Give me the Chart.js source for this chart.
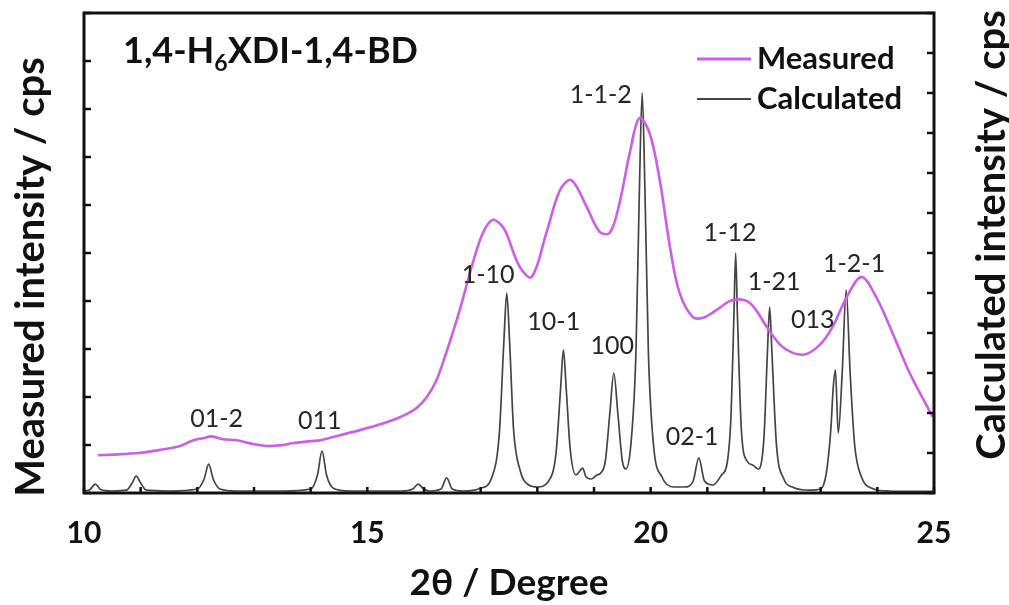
<!DOCTYPE html>
<html>
<head>
<meta charset="utf-8">
<script src="https://cdn.jsdelivr.net/npm/chart.js@4.4.1/dist/chart.umd.min.js"></script>
<style>
  html, body { margin: 0; padding: 0; background: #fff; }
</style>
</head>
<body>
<canvas id="stage" width="1009" height="605"></canvas>
<script>
// measured pattern (left axis, arbitrary units)
const measX = [10.25, 10.5, 11.0, 11.35, 11.7, 11.93, 12.1, 12.25, 12.45, 12.7, 12.98, 13.23, 13.5, 13.7, 14.0, 14.17, 14.5, 14.87, 15.2, 15.45, 15.7, 15.87, 16.05, 16.22, 16.4, 16.63, 16.86, 17.04, 17.21, 17.35, 17.45, 17.69, 17.9, 18.16, 18.4, 18.6, 18.87, 19.1, 19.28, 19.45, 19.63, 19.8, 19.98, 20.16, 20.34, 20.51, 20.74, 20.92, 21.16, 21.45, 21.75, 22.05, 22.33, 22.69, 22.98, 23.21, 23.46, 23.72, 23.98, 24.27, 24.57, 24.98];
const measY = [0.79, 0.8, 0.84, 0.9, 0.98, 1.1, 1.14, 1.18, 1.12, 1.1, 1.02, 0.98, 1.0, 1.04, 1.08, 1.1, 1.2, 1.31, 1.42, 1.52, 1.65, 1.77, 2.0, 2.35, 2.95, 3.81, 4.79, 5.42, 5.69, 5.6, 5.42, 4.71, 4.5, 5.42, 6.31, 6.52, 5.96, 5.44, 5.42, 6.04, 7.08, 7.81, 7.5, 6.52, 5.13, 4.17, 3.67, 3.65, 3.81, 4.02, 3.96, 3.46, 3.04, 2.88, 3.08, 3.46, 4.08, 4.5, 4.08, 3.33, 2.5, 1.58];

// calculated pattern (right axis)
const calcX = [10.0, 10.1, 10.2, 10.3, 10.5, 10.75, 10.85, 10.92, 11.0, 11.1, 11.5, 12.0, 12.12, 12.2, 12.28, 12.4, 12.7, 13.5, 14.0, 14.12, 14.2, 14.28, 14.4, 14.7, 15.6, 15.8, 15.9, 15.98, 16.1, 16.3, 16.4, 16.5, 16.7, 17.0, 17.2, 17.33, 17.41, 17.46, 17.51, 17.58, 17.7, 17.85, 18.0, 18.2, 18.33, 18.41, 18.46, 18.51, 18.58, 18.68, 18.75, 18.8, 18.86, 18.95, 19.05, 19.12, 19.2, 19.28, 19.35, 19.42, 19.5, 19.56, 19.65, 19.74, 19.8, 19.85, 19.9, 19.96, 20.05, 20.2, 20.4, 20.6, 20.75, 20.85, 20.95, 21.1, 21.25, 21.35, 21.42, 21.47, 21.5, 21.53, 21.6, 21.7, 21.8, 21.9, 22.0, 22.06, 22.1, 22.14, 22.22, 22.35, 22.5, 22.8, 23.0, 23.1, 23.18, 23.22, 23.26, 23.31, 23.38, 23.45, 23.52, 23.6, 23.72, 23.9, 24.2, 25.0];
const calcY = [0.05, 0.08, 0.22, 0.08, 0.05, 0.07, 0.25, 0.42, 0.25, 0.07, 0.05, 0.1, 0.35, 0.72, 0.35, 0.1, 0.05, 0.05, 0.1, 0.45, 1.05, 0.45, 0.12, 0.05, 0.05, 0.1, 0.22, 0.12, 0.05, 0.1, 0.38, 0.1, 0.05, 0.12, 0.4, 1.5, 3.8, 5.0, 3.8, 1.6, 0.55, 0.2, 0.15, 0.3, 1.0, 2.6, 3.58, 2.6, 1.1, 0.45, 0.55, 0.62, 0.4, 0.35, 0.45, 0.5, 0.8, 2.0, 3.0, 2.0, 0.8, 0.6, 1.2, 3.5, 7.5, 10.0, 7.5, 3.5, 1.2, 0.4, 0.15, 0.15, 0.3, 0.88, 0.3, 0.2, 0.45, 0.75, 2.0, 4.5, 6.0, 4.5, 1.6, 0.8, 0.7, 0.6, 1.4, 3.5, 4.65, 3.5, 1.2, 0.35, 0.15, 0.07, 0.1, 0.5, 1.6, 2.6, 3.08, 1.5, 3.0, 5.08, 3.0, 1.2, 0.4, 0.12, 0.05, 0.04];

// reflection labels (placed in left-axis units)
const peakNames = ['01-2', '011', '1-10', '10-1', '100', '1-1-2', '02-1', '1-12', '1-21', '013', '1-2-1'];
const peakLabelX = [12.34, 14.16, 17.13, 18.29, 19.32, 19.12, 20.73, 21.4, 22.18, 22.86, 23.59];
const peakLabelY = [1.54, 1.50, 4.54, 3.56, 3.06, 8.29, 1.17, 5.42, 4.4, 3.6, 4.77];

const xTickLabels = [10, 15, 20, 25];
const seriesNames = ['Measured', 'Calculated'];
const seriesColors = ['#cc5ee8', '#444444'];

const BOLD = 'Lato, "DejaVu Sans", sans-serif';

function pairs(xs, ys) {
  return xs.map((x, i) => ({x: x, y: ys[i]}));
}

function vtext(ctx, txt, x, y) {
  ctx.save();
  ctx.translate(x, y);
  ctx.rotate(-Math.PI / 2);
  ctx.textAlign = 'center';
  ctx.textBaseline = 'middle';
  ctx.fillText(txt, 0, 0);
  ctx.restore();
}

const decor = {
  id: 'decor',
  afterDatasetsDraw(chart) {
    const ctx = chart.ctx;
    const a = chart.chartArea;
    const sx = chart.scales.x, sy = chart.scales.y, sy2 = chart.scales.y2;
    ctx.save();
    ctx.strokeStyle = '#111';
    ctx.lineWidth = 2.5;
    ctx.beginPath();
    // inward tick marks
    sx.ticks.forEach(t => {
      const p = sx.getPixelForValue(t.value);
      ctx.moveTo(p, a.bottom); ctx.lineTo(p, a.bottom - 6);
    });
    sy.ticks.forEach(t => {
      const p = sy.getPixelForValue(t.value);
      ctx.moveTo(a.left, p); ctx.lineTo(a.left + 7, p);
    });
    sy2.ticks.forEach(t => {
      const p = sy2.getPixelForValue(t.value);
      ctx.moveTo(a.right, p); ctx.lineTo(a.right - 7, p);
    });
    ctx.stroke();
    ctx.lineWidth = 3;
    ctx.strokeRect(a.left, a.top, a.right - a.left, a.bottom - a.top);

    // reflection labels
    ctx.fillStyle = '#262626';
    ctx.font = '25px Lato, "Open Sans", sans-serif';
    ctx.textAlign = 'center';
    ctx.textBaseline = 'middle';
    peakNames.forEach((n, i) => {
      ctx.fillText(n, sx.getPixelForValue(peakLabelX[i]), sy.getPixelForValue(peakLabelY[i]));
    });

    // sample name with subscript
    ctx.fillStyle = '#111';
    ctx.textAlign = 'left';
    ctx.textBaseline = 'alphabetic';
    let x0 = 123;
    const base = 63;
    const parts = [['1,4-H', 36, 0], ['6', 23, 8], ['XDI-1,4-BD', 36, 0]];
    parts.forEach(p => {
      ctx.font = 'bold ' + p[1] + 'px ' + BOLD;
      ctx.fillText(p[0], x0, base + p[2]);
      x0 += ctx.measureText(p[0]).width;
    });

    // legend
    const ly = [59, 99];
    ctx.font = 'bold 31px ' + BOLD;
    ctx.textBaseline = 'middle';
    seriesNames.forEach((n, i) => {
      ctx.strokeStyle = seriesColors[i];
      ctx.lineWidth = i === 0 ? 3 : 2;
      ctx.beginPath();
      ctx.moveTo(697, ly[i]); ctx.lineTo(751, ly[i]);
      ctx.stroke();
      ctx.fillStyle = '#111';
      ctx.fillText(n, 757, ly[i]);
    });

    // axis titles reading bottom to top
    ctx.font = 'bold 40px ' + BOLD;
    vtext(ctx, 'Measured intensity / cps', 31, 277);
    vtext(ctx, 'Calculated intensity / cps', 992, 235);
    ctx.restore();
  }
};

new Chart(document.getElementById('stage'), {
  type: 'line',
  data: {
    datasets: [{
      label: seriesNames[0],
      data: pairs(measX, measY),
      borderColor: seriesColors[0],
      borderWidth: 2.6,
      yAxisID: 'y',
      tension: 0.35
    }, {
      label: seriesNames[1],
      data: pairs(calcX, calcY),
      borderColor: seriesColors[1],
      borderWidth: 1.7,
      yAxisID: 'y2',
      cubicInterpolationMode: 'monotone'
    }]
  },
  plugins: [decor],
  options: {
    responsive: false,
    animation: false,
    maintainAspectRatio: false,
    devicePixelRatio: 1,
    layout: { padding: { top: 13, left: 0, right: 0, bottom: 0 } },
    elements: { point: { radius: 0 } },
    plugins: { legend: { display: false }, tooltip: { enabled: false } },
    scales: {
      x: {
        type: 'linear',
        min: 10, max: 25,
        grid: { display: false, drawTicks: false },
        border: { display: false },
        ticks: {
          stepSize: 1,
          padding: 22,
          color: '#111',
          font: { family: BOLD, size: 30, weight: 'bold' },
          callback: v => xTickLabels.includes(v) ? String(v) : ''
        },
        title: {
          display: true,
          text: '2θ / Degree',
          color: '#111',
          font: { family: BOLD, size: 37, weight: 'bold' },
          padding: { top: 0, bottom: 0 }
        },
        afterFit: s => { s.height = 112; }
      },
      y: {
        position: 'left',
        min: 0, max: 10,
        grid: { display: false },
        border: { display: false },
        ticks: { stepSize: 1, display: false },
        afterFit: s => { s.width = 84; }
      },
      y2: {
        position: 'right',
        min: 0, max: 12,
        grid: { display: false },
        border: { display: false },
        ticks: { stepSize: 1, display: false },
        afterFit: s => { s.width = 75; }
      }
    }
  }
});
</script>
</body>
</html>
